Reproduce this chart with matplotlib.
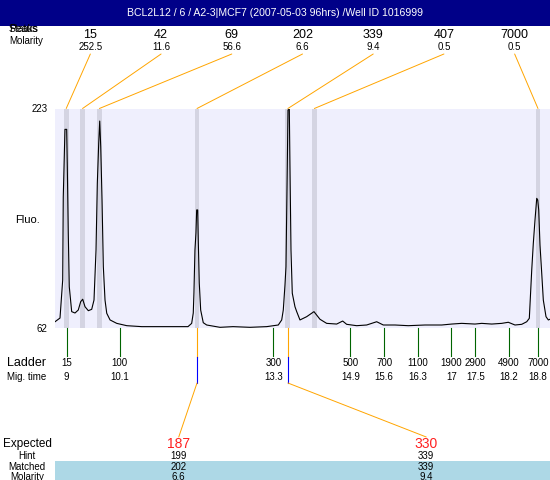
import matplotlib
matplotlib.use("Agg")
import matplotlib.pyplot as plt
from matplotlib.transforms import blended_transform_factory
from matplotlib.patches import Rectangle, ConnectionPatch

plt.rcParams['font.family'] = ['Liberation Sans', 'DejaVu Sans']

title = "BCL2L12 / 6 / A2-3|MCF7 (2007-05-03 96hrs) /Well ID 1016999"

# electropherogram trace (migration time, fluorescence)
trace_time = [8.757, 8.861, 8.917, 8.929, 8.964, 9.000, 9.013, 9.033, 9.054, 9.104,
              9.173, 9.241, 9.291, 9.333, 9.381, 9.450, 9.520, 9.568, 9.610, 9.637,
              9.666, 9.687, 9.708, 9.735, 9.762, 9.797, 9.833, 9.902, 10.041, 10.249,
              10.56, 10.836, 11.183, 11.522, 11.599, 11.632, 11.646, 11.667, 11.688, 11.703,
              11.724, 11.736, 11.757, 11.786, 11.840, 11.911, 12.188, 12.458, 12.812, 13.159,
              13.400, 13.471, 13.504, 13.539, 13.560, 13.587, 13.602, 13.629, 13.643, 13.664,
              13.691, 13.747, 13.783, 13.851, 13.990, 14.142, 14.267, 14.406, 14.614, 14.739,
              14.822, 15.030, 15.238, 15.446, 15.515, 15.584, 15.827, 16.103, 16.451, 16.798,
              17.006, 17.214, 17.490, 17.630, 17.838, 18.046, 18.183, 18.322, 18.462, 18.566,
              18.620, 18.670, 18.703, 18.738, 18.774, 18.795, 18.815, 18.842, 18.878, 18.911,
              18.967, 19.015, 19.050]
trace_fluo = [66.6, 69.3, 97.2, 158.1, 207.7, 207.7, 180.3, 131.7, 92.3, 74.0,
              73.0, 75.2, 81.3, 83.1, 77.6, 74.7, 75.7, 82.5, 119.2, 168.1,
              197.7, 213.8, 195.0, 155.9, 107.0, 82.5, 72.8, 67.9, 65.4, 63.7,
              63.0, 63.0, 63.0, 63.0, 65.4, 73.0, 87.7, 119.2, 131.7, 148.6,
              148.6, 126.5, 95.0, 75.2, 65.9, 64.2, 62.5, 63.0, 62.5, 63.0,
              64.2, 67.9, 75.2, 93.5, 107.0, 180.3, 221.9, 222.4, 180.3, 119.2,
              87.5, 77.6, 74.0, 67.9, 70.3, 74.0, 68.4, 65.4, 64.9, 67.1,
              64.7, 63.7, 64.2, 66.6, 65.4, 64.2, 64.2, 63.7, 64.2, 64.2,
              64.9, 65.4, 64.9, 65.4, 64.9, 65.4, 66.2, 64.2, 64.7, 66.6,
              69.1, 104.5, 124.1, 141.2, 157.1, 155.9, 148.6, 122.9, 102.1, 82.5,
              70.3, 67.9, 68.4]

# detected peaks
peak_sizes = ["15", "42", "69", "202", "339", "407", "7000"]
peak_molarity = ["252.5", "11.6", "56.6", "6.6", "9.4", "0.5", "0.5"]
peak_times = [8.99, 9.33, 9.68, 11.71, 13.60, 14.15, 18.80]

# ladder
ladder_sizes = ["15", "100", "300", "500", "700", "1100", "1900", "2900", "4900", "7000"]
ladder_times = [9.0, 10.1, 13.3, 14.9, 15.6, 16.3, 17.0, 17.5, 18.2, 18.8]
ladder_time_labels = ["9", "10.1", "13.3", "14.9", "15.6", "16.3", "17", "17.5", "18.2", "18.8"]

# expected / matched table
expected_sizes = ["187", "330"]
hint_sizes = ["199", "339"]
matched_sizes = ["202", "339"]
matched_molarity = ["6.6", "9.4"]
matched_times = [11.71, 13.60]

y_min, y_max = 62, 223
x_min, x_max = 8.757, 19.05

W, H = 550, 480
fig = plt.figure(figsize=(5.5, 4.8), dpi=100)
fig.patch.set_facecolor('white')


def fx(px):
    return px / W


def fy(py):
    return 1 - py / H


ORANGE = '#FFA500'

# header
fig.add_artist(Rectangle((0, fy(26)), 1, 26 / H, transform=fig.transFigure,
                         facecolor='#000088', edgecolor='none', zorder=0))
fig.text(0.5, fy(13.5), title, color='white', ha='center', va='center', fontsize=7.6)

# main axes
ax = fig.add_axes([fx(55), fy(328), fx(495), 219.5 / H])
ax.set_facecolor('#EFEFFD')
for s in ax.spines.values():
    s.set_visible(False)
ax.set_xlim(x_min, x_max)
ax.set_ylim(y_min, y_max)
ax.set_xticks([])
ax.set_yticks([y_min, y_max])
ax.set_yticklabels([str(y_min), str(y_max)])
ax.tick_params(axis='y', length=0, pad=5.5, labelsize=7)

band_w = 0.1
for t in peak_times:
    ax.axvspan(t - band_w / 2, t + band_w / 2, color='#D4D4E2', lw=0, zorder=1)
ax.plot(trace_time, trace_fluo, color='black', lw=0.8, zorder=3)

blend = blended_transform_factory(ax.transData, fig.transFigure)

# top peak table
fig.text(fx(9), fy(28.5), "Peaks", ha='left', va='center', fontsize=7.5)
fig.text(fx(9), fy(28.5), "Status", ha='left', va='center', fontsize=7.5)
fig.text(fx(9), fy(40.5), "Molarity", ha='left', va='center', fontsize=7)
n = len(peak_sizes)
for i, (s, m, t) in enumerate(zip(peak_sizes, peak_molarity, peak_times)):
    cx = 55 + 495 * (i + 0.5) / n
    fig.text(fx(cx), fy(34.5), s, ha='center', va='center', fontsize=9)
    fig.text(fx(cx), fy(47), m, ha='center', va='center', fontsize=7)
    cp = ConnectionPatch(xyA=(fx(cx), fy(54)), coordsA=fig.transFigure,
                         xyB=(t, fy(108.5)), coordsB=blend,
                         color=ORANGE, lw=0.7)
    fig.add_artist(cp)

# y label
fig.text(fx(27), fy(220), "Fluo.", ha='center', va='center', fontsize=8)

# ladder
fig.text(fx(27), fy(363), "Ladder", ha='center', va='center', fontsize=9)
fig.text(fx(27), fy(377), "Mig. time", ha='center', va='center', fontsize=7)
for s, t, tl in zip(ladder_sizes, ladder_times, ladder_time_labels):
    ax.plot([t, t], [fy(328), fy(356)], transform=blend, color='#006400', lw=0.8, clip_on=False)
    ax.text(t, fy(363), s, transform=blend, ha='center', va='center', fontsize=7)
    ax.text(t, fy(377), tl, transform=blend, ha='center', va='center', fontsize=7)

# matched peak connectors
m = len(expected_sizes)
for i, t in enumerate(matched_times):
    cx = 55 + 495 * (i + 0.5) / m
    ax.plot([t, t], [fy(328), fy(357)], transform=blend, color=ORANGE, lw=0.8, clip_on=False)
    ax.plot([t, t], [fy(357), fy(383)], transform=blend, color='#0000FF', lw=0.8, clip_on=False)
    cp = ConnectionPatch(xyA=(t, fy(383)), coordsA=blend,
                         xyB=(fx(cx), fy(437)), coordsB=fig.transFigure,
                         color=ORANGE, lw=0.7)
    fig.add_artist(cp)

# bottom table
fig.add_artist(Rectangle((fx(55), 0), fx(495), 19 / H, transform=fig.transFigure,
                         facecolor='#ADD8E6', edgecolor='none', zorder=0))
fig.text(fx(27), fy(444), "Expected", ha='center', va='center', fontsize=8.5)
fig.text(fx(27), fy(456), "Hint", ha='center', va='center', fontsize=7)
fig.text(fx(27), fy(466.5), "Matched", ha='center', va='center', fontsize=7)
fig.text(fx(27), fy(476.5), "Molarity", ha='center', va='center', fontsize=7)
for i in range(m):
    cx = 55 + 495 * (i + 0.5) / m
    fig.text(fx(cx), fy(444.5), expected_sizes[i], ha='center', va='center', fontsize=10, color='#FF2020')
    fig.text(fx(cx), fy(456), hint_sizes[i], ha='center', va='center', fontsize=7)
    fig.text(fx(cx), fy(466.5), matched_sizes[i], ha='center', va='center', fontsize=7)
    fig.text(fx(cx), fy(476.5), matched_molarity[i], ha='center', va='center', fontsize=7)

fig.savefig("out.png", dpi=100)
